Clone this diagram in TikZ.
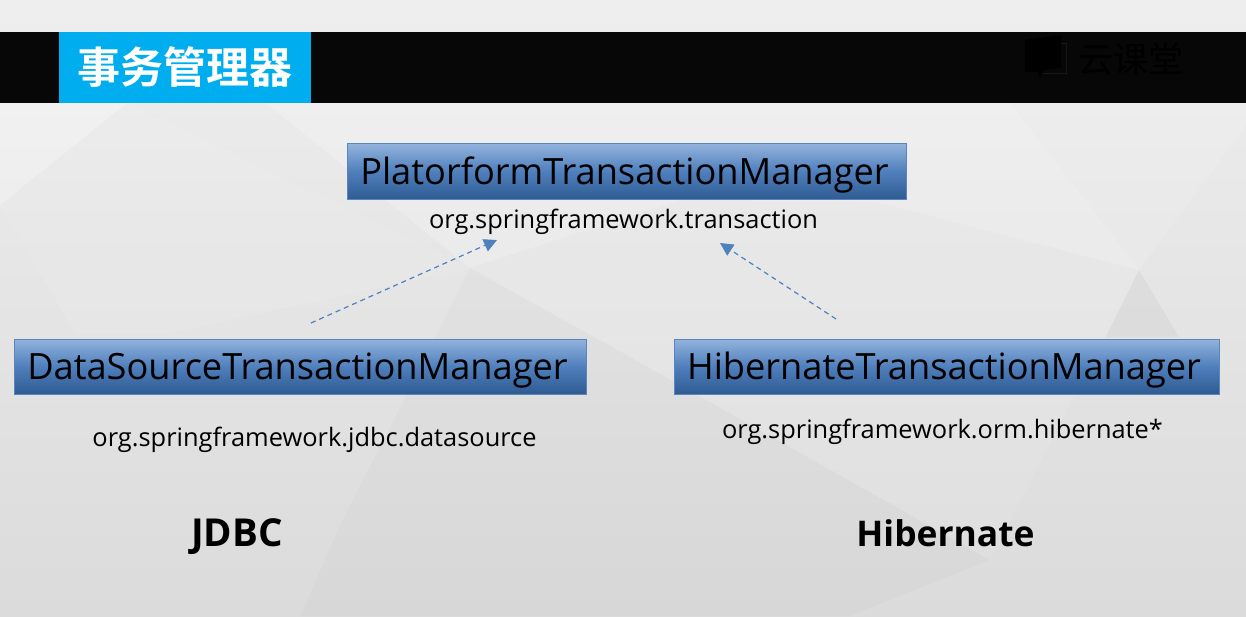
\documentclass[tikz,border=0pt]{standalone}
\usepackage{fontspec}
\setmainfont{Open Sans}
\newfontfamily\cjk{Noto Sans CJK SC}[BoldFont={* Bold}]
\usetikzlibrary{arrows.meta}
\definecolor{bgtop}{HTML}{EEEEEE}
\definecolor{bgbottom}{HTML}{DBDBDB}
\definecolor{barblack}{HTML}{070707}
\definecolor{logogrey}{HTML}{171717}
\definecolor{titleblue}{HTML}{00AEEF}
\definecolor{boxline}{HTML}{5B86BD}
\definecolor{arrowblue}{HTML}{4F81BD}
\definecolor{boxtop}{HTML}{93B3DD}
\definecolor{boxmid}{HTML}{4F7FBC}
\definecolor{boxbottom}{HTML}{2F5B92}
\tikzset{
	block/.style={draw=boxline, line width=1pt, top color=boxtop, bottom color=boxbottom, middle color=boxmid, text=black, inner sep=0pt, text height=34pt, text depth=8pt, execute at end node=\kern5pt, font=\fontsize{36.2}{36}\selectfont},
	pkg/.style={text=black, inner sep=0pt, font=\fontsize{25.4}{25}\selectfont},
	tech/.style={text=black, inner sep=0pt, font=\fontsize{35.4}{35}\selectfont\bfseries},
	dep/.style={draw=arrowblue, line width=1.2pt, dash pattern=on 5pt off 4pt, -{Triangle[length=13pt,width=13pt,sep=0pt]}},
	facetlight/.style={fill=white, opacity=#1},
	facetdark/.style={fill=black, opacity=#1}
}
\begin{document}
\begin{tikzpicture}[x=1pt,y=-1pt]
	\useasboundingbox (0,0) rectangle (1246,616);
	% background
	\shade[top color=bgtop, bottom color=bgbottom] (0,0) rectangle (1246,616);
	\fill[facetlight=.3] (0,103) -- (127,103) -- (0,205) -- cycle;
	\fill[facetlight=.08] (0,205) -- (127,103) -- (470,268) -- (170,333) -- (75,333) -- cycle;
	\fill[facetlight=.2] (266,103) -- (1010,103) -- (1139,270) -- (877,202) -- (680,200) -- (470,268) -- cycle;
	\fill[facetlight=.12] (1010,103) -- (1246,103) -- (1246,125) -- (1139,270) -- cycle;
	\fill[facetlight=.08] (470,268) -- (680,200) -- (877,202) -- (1139,270) -- (990,560) -- (623,353) -- cycle;
	\fill[facetdark=.015] (470,268) -- (623,353) -- (990,560) -- (850,616) -- (300,616) -- (338,530) -- cycle;
	\fill[facetdark=.03] (1139,270) -- (1179,337) -- (1106,337) -- cycle;
	% header
	\fill[barblack] (0,32) rectangle (1246,103);
	\node[fill=titleblue, minimum width=252pt, minimum height=71pt, inner sep=0pt, text=white] (title) at (185,67.5) {\cjk\bfseries\fontsize{43}{43}\selectfont 事务管理器};
	\draw[logogrey, line width=1pt] (1056,43) -- (1066,43) -- (1066,73) -- (1042,73);
	\fill[black] (1025,40) -- (1061,35) -- (1061,68) -- (1044,70) -- (1040,77) -- (1038,72) -- (1025,72) -- cycle;
	\node[text=black, inner sep=0pt] (logo) at (1131,59) {\cjk\fontsize{35}{35}\selectfont 云课堂};
	% boxes
	\node[block, minimum width=559pt, minimum height=56pt] (ptm) at (627,171.5) {PlatorformTransactionManager};
	\node[block, minimum width=572pt, minimum height=55pt] (dstm) at (300,366.5) {DataSourceTransactionManager};
	\node[block, minimum width=545pt, minimum height=55pt] (htm) at (946.5,366.5) {HibernateTransactionManager};
	% packages
	\node[pkg] (ptmpkg) at (623.5,222) {org.springframework.transaction};
	\node[pkg] (dspkg) at (314.5,440) {org.springframework.jdbc.datasource};
	\node[pkg] (hpkg) at (942.5,432) {org.springframework.orm.hibernate*};
	\node[tech, font=\fontsize{38.5}{38}\selectfont\bfseries] (jdbc) at (237,537) {JDBC};
	\node[tech] (hib) at (945.5,533) {Hibernate};
	% arrows
	\coordinate (dsfrom) at (311,323);
	\coordinate (dsto) at (497,240);
	\coordinate (hfrom) at (836,319);
	\coordinate (hto) at (720,243);
	\draw[dep] (dsfrom) -- (dsto);
	\draw[dep] (hfrom) -- (hto);
\end{tikzpicture}
\end{document}
